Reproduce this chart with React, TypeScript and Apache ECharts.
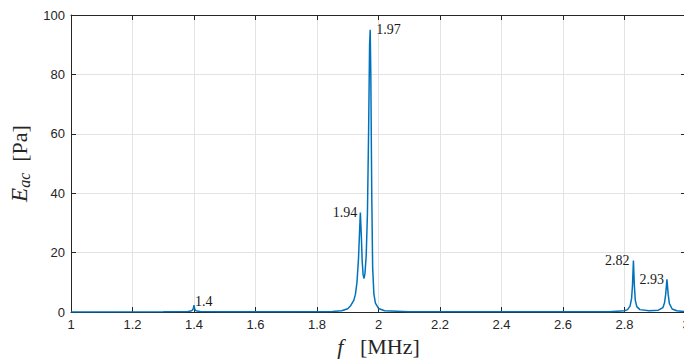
import React, { useEffect, useRef } from "react";
import * as echarts from "echarts";

const freq = [1.0, 1.3, 1.38, 1.39, 1.395, 1.398, 1.4, 1.402, 1.405, 1.41, 1.42, 1.5, 1.7, 1.85, 1.88, 1.9, 1.91, 1.92, 1.925, 1.93, 1.935, 1.938, 1.941, 1.944, 1.947, 1.95, 1.953, 1.956, 1.96, 1.964, 1.968, 1.971, 1.973, 1.975, 1.978, 1.981, 1.985, 1.99, 2.0, 2.02, 2.1, 2.5, 2.75, 2.8, 2.81, 2.818, 2.823, 2.826, 2.829, 2.832, 2.835, 2.84, 2.85, 2.88, 2.91, 2.925, 2.93, 2.934, 2.938, 2.942, 2.946, 2.955, 2.97, 3.0];
const eac = [0, 0.05, 0.15, 0.3, 0.6, 1.2, 2.3, 1.2, 0.5, 0.3, 0.15, 0.05, 0.1, 0.2, 0.4, 1.1, 2.2, 4, 6, 10, 18, 26, 33.5, 26, 17, 12.5, 11.3, 13, 19, 33, 62, 90, 95, 80, 40, 15, 6, 3, 1.2, 0.4, 0.1, 0.05, 0.1, 0.4, 0.8, 2, 4.5, 9, 17.3, 9, 4, 1.8, 0.8, 0.4, 0.6, 1.5, 3, 6, 11, 6, 2.8, 1, 0.4, 0.1];

const peakFreqs = [1.4, 1.941, 1.973, 2.829, 2.938];
const peakTexts = ["1.4", "1.94", "1.97", "2.82", "2.93"];

const xTicks = { min: 1, max: 3, interval: 0.2 };
const yTicks = { min: 0, max: 100, interval: 20 };

const labelStyle: Record<string, any> = {
  "1.4": { position: "right", distance: 1, offset: [0, -4] },
  "1.94": { position: "left", distance: 3, offset: [0, 0] },
  "1.97": { position: "right", distance: 6, offset: [0, 0] },
  "2.82": { position: "left", distance: 4, offset: [0, 0] },
  "2.93": { position: "left", distance: 3, offset: [0, 0] },
};

export default function App() {
  const ref = useRef<HTMLDivElement>(null);
  useEffect(() => {
    if (!ref.current) return;
    const chart = echarts.init(ref.current, undefined, { renderer: "svg" });
    const axisColor = "#262626";
    const data = freq.map((f, i) => {
      const k = peakFreqs.indexOf(f);
      if (k >= 0) {
        const t = peakTexts[k];
        const s = labelStyle[t];
        return {
          value: [f, eac[i]],
          label: {
            show: true,
            formatter: t,
            position: s.position,
            distance: s.distance,
            offset: s.offset,
            fontFamily: "Liberation Serif",
            fontSize: 14,
            color: "#1a1a1a",
          },
        };
      }
      return { value: [f, eac[i]] };
    });
    const baseX = {
      type: "value",
      min: xTicks.min,
      max: xTicks.max,
      interval: xTicks.interval,
      axisLine: { show: true, onZero: false, lineStyle: { color: axisColor, width: 1 } },
      axisTick: { show: true, inside: true, length: 5, lineStyle: { color: axisColor } },
    };
    const baseY = {
      type: "value",
      min: yTicks.min,
      max: yTicks.max,
      interval: yTicks.interval,
      axisLine: { show: true, onZero: false, lineStyle: { color: axisColor, width: 1 } },
      axisTick: { show: true, inside: true, length: 5, lineStyle: { color: axisColor } },
    };
    chart.setOption({
      animation: false,
      backgroundColor: "#ffffff",
      grid: { left: 71, right: -2, top: 15, bottom: 49, containLabel: false, outerBoundsMode: "none" },
      xAxis: [
        {
          ...baseX,
          position: "bottom",
          axisLabel: {
            show: true,
            color: axisColor,
            fontFamily: "Liberation Sans",
            fontSize: 13,
            margin: 6,
          },
          splitLine: { show: true, lineStyle: { color: "#e3e3e3", width: 1 } },
          name: "{i|f}   [MHz]",
          nameLocation: "middle",
          nameGap: 17,
          nameTextStyle: {
            fontFamily: "Liberation Serif",
            fontSize: 22,
            color: axisColor,
            rich: {
              i: { fontFamily: "Liberation Serif", fontStyle: "italic", fontSize: 22, color: axisColor },
            },
          },
        },
        {
          ...baseX,
          position: "top",
          axisLabel: { show: false },
          splitLine: { show: false },
        },
      ],
      yAxis: [
        {
          ...baseY,
          position: "left",
          axisLabel: {
            show: true,
            color: axisColor,
            fontFamily: "Liberation Sans",
            fontSize: 13,
            margin: 6,
          },
          splitLine: { show: true, lineStyle: { color: "#e3e3e3", width: 1 } },
          name: "{e|E}{s|ac}  [Pa]",
          nameLocation: "middle",
          nameRotate: 90,
          nameGap: 33,
          nameTextStyle: {
            fontFamily: "Liberation Serif",
            fontSize: 22,
            color: axisColor,
            rich: {
              e: { fontFamily: "Liberation Serif", fontStyle: "italic", fontSize: 23, color: axisColor },
              s: { fontFamily: "Liberation Serif", fontStyle: "italic", fontSize: 16, color: axisColor, padding: [10, 0, 0, 0] },
            },
          },
        },
        {
          ...baseY,
          position: "right",
          axisLabel: { show: false },
          splitLine: { show: false },
        },
      ],
      series: [
        {
          type: "line",
          xAxisIndex: 0,
          yAxisIndex: 0,
          data,
          showSymbol: true,
          showAllSymbol: true,
          symbol: "circle",
          symbolSize: 0.01,
          lineStyle: { color: "#0072BD", width: 1.5 },
          itemStyle: { color: "#0072BD" },
          silent: true,
          z: 3,
        },
      ],
    });
    return () => chart.dispose();
  }, []);
  return <div ref={ref} style={{ width: 684, height: 361, position: "absolute", left: 0, top: 0 }} />;
}
